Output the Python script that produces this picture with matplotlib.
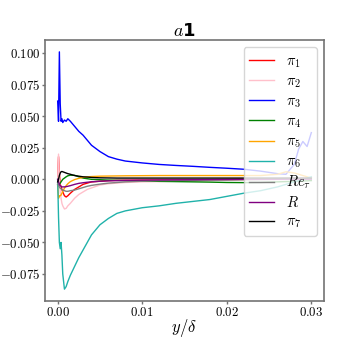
import matplotlib
matplotlib.use("Agg")
import matplotlib.pyplot as plt
from matplotlib.ticker import FuncFormatter, MultipleLocator

plt.rcParams['mathtext.fontset'] = 'cm'

x = [0.0, 0.0001, 0.0002, 0.0003, 0.0004, 0.0005, 0.0006, 0.0008, 0.001, 0.0012,
     0.0015, 0.002, 0.0025, 0.003, 0.0035, 0.004, 0.005, 0.006, 0.007, 0.008,
     0.01, 0.012, 0.014, 0.016, 0.018, 0.02, 0.022, 0.024, 0.026, 0.027,
     0.028, 0.0285, 0.029, 0.0295, 0.03]

pi1 = [0.0, 0.018, 0.005, -0.004, -0.006, -0.008, -0.010, -0.013, -0.014, -0.013,
       -0.011, -0.008, -0.006, -0.004, -0.003, -0.002, -0.0015, -0.001, -0.0008, -0.0007,
       -0.0006, -0.0005, -0.0005, -0.0004, -0.0003, -0.0002, -0.0001, 0.0, 0.0, 0.0,
       0.0002, 0.0003, 0.0004, 0.0005, 0.0005]
pi2 = [0.0, 0.020, 0.0, -0.010, -0.015, -0.019, -0.021, -0.0235, -0.023, -0.021,
       -0.019, -0.015, -0.012, -0.010, -0.008, -0.0068, -0.0045, -0.0035, -0.003, -0.0025,
       -0.002, -0.0018, -0.0015, -0.0012, -0.001, -0.0005, 0.0, 0.0, 0.0005, 0.001,
       0.001, 0.001, 0.001, 0.001, 0.001]
pi3 = [0.062, 0.046, 0.101, 0.060, 0.046, 0.048, 0.045, 0.047, 0.046, 0.048,
       0.046, 0.042, 0.038, 0.035, 0.031, 0.027, 0.022, 0.018, 0.016, 0.0145,
       0.013, 0.0118, 0.011, 0.0103, 0.0095, 0.0088, 0.008, 0.0065, 0.0045, 0.004,
       0.012, 0.024, 0.030, 0.026, 0.037]
pi4 = [-0.004, -0.005, -0.004, -0.003, -0.002, -0.001, 0.0, 0.001, 0.002, 0.0028,
       0.0033, 0.0032, 0.002, 0.001, 0.0005, 0.0, -0.0003, -0.0006, -0.0008, -0.001,
       -0.0013, -0.0016, -0.0018, -0.002, -0.0022, -0.0025, -0.0026, -0.0025, -0.002, -0.0018,
       -0.0016, -0.0015, -0.0013, -0.0012, -0.001]
pi5 = [-0.005, -0.015, -0.013, -0.013, -0.0125, -0.011, -0.0095, -0.007, -0.005, -0.0035,
       -0.0018, -0.0002, 0.0008, 0.0015, 0.002, 0.0022, 0.0025, 0.0026, 0.0027, 0.0028,
       0.0029, 0.003, 0.003, 0.003, 0.003, 0.003, 0.003, 0.003, 0.004, 0.006,
       0.005, 0.004, 0.003, 0.002, 0.001]
pi6 = [0.0, -0.030, -0.050, -0.055, -0.050, -0.060, -0.075, -0.087, -0.085, -0.081,
       -0.076, -0.069, -0.062, -0.056, -0.050, -0.044, -0.036, -0.031, -0.027, -0.025,
       -0.0225, -0.021, -0.019, -0.0175, -0.016, -0.0135, -0.011, -0.009, -0.006, -0.004,
       -0.002, -0.001, 0.0, 0.001, 0.002]
re_tau = [-0.003, -0.005, -0.006, -0.007, -0.0075, -0.008, -0.0085, -0.009, -0.0095, -0.0095,
          -0.009, -0.0085, -0.0075, -0.0065, -0.0055, -0.0048, -0.0038, -0.003, -0.0025, -0.002,
          -0.0015, -0.001, -0.0009, -0.0008, -0.0006, -0.0005, -0.0003, -0.0002, 0.0, 0.0,
          0.0002, 0.0003, 0.0004, 0.0005, 0.0005]
r_vals = [0.0, -0.002, -0.004, -0.005, -0.0055, -0.006, -0.006, -0.006, -0.0058, -0.0055,
          -0.005, -0.004, -0.0032, -0.0027, -0.0023, -0.002, -0.0015, -0.0012, -0.001, -0.0008,
          -0.0006, -0.0005, -0.0004, -0.0003, -0.0002, -0.0001, 0.0, 0.0, 0.0, 0.0,
          0.0, 0.0, 0.0, 0.0, 0.0]
pi7 = [-0.002, 0.0, 0.003, 0.005, 0.006, 0.0062, 0.006, 0.0055, 0.005, 0.0045,
       0.004, 0.003, 0.0025, 0.002, 0.0018, 0.0015, 0.0012, 0.0011, 0.001, 0.001,
       0.001, 0.001, 0.001, 0.001, 0.001, 0.001, 0.001, 0.001, 0.001, 0.001,
       0.001, 0.001, 0.001, 0.001, 0.001]

series = [
    (pi1, r'$\pi_1$', 'red'),
    (pi2, r'$\pi_2$', 'pink'),
    (pi3, r'$\pi_3$', 'blue'),
    (pi4, r'$\pi_4$', 'green'),
    (pi5, r'$\pi_5$', 'orange'),
    (pi6, r'$\pi_6$', 'lightseagreen'),
    (re_tau, r'$Re_\tau$', 'grey'),
    (r_vals, r'$R$', 'purple'),
    (pi7, r'$\pi_7$', 'black'),
]


def fmt(v, digits):
    s = '%.*f' % (digits, abs(v))
    if v < -1e-12:
        return r'${-}%s$' % s
    return r'$%s$' % s


fig = plt.figure(figsize=(3.6, 3.39), dpi=100)
ax = fig.add_axes([45/360, 1 - 301/339, (324-45)/360, (301-40)/339])

for vals, lab, col in series:
    ax.plot(x, vals, color=col, lw=1.0, label=lab)

for s in ax.spines.values():
    s.set_color('0.45')
    s.set_linewidth(1.2)

ax.xaxis.set_major_locator(MultipleLocator(0.01))
ax.yaxis.set_major_locator(MultipleLocator(0.025))
ax.xaxis.set_major_formatter(FuncFormatter(lambda v, p: fmt(v, 2)))
ax.yaxis.set_major_formatter(FuncFormatter(lambda v, p: fmt(v, 3)))
ax.tick_params(labelsize=9.2, color='0.45', length=2.5, width=1.0, pad=1.0)

ax.set_xlabel(r'$y/\delta$', fontsize=12, labelpad=-1)
ax.set_title(r'$a$1', fontsize=13, fontweight='bold', y=1.0, pad=3)

leg = ax.legend(loc='upper right', fontsize=10.5, framealpha=0.8,
                handlelength=1.7, labelspacing=0.25)

fig.savefig('out.png', dpi=100)
